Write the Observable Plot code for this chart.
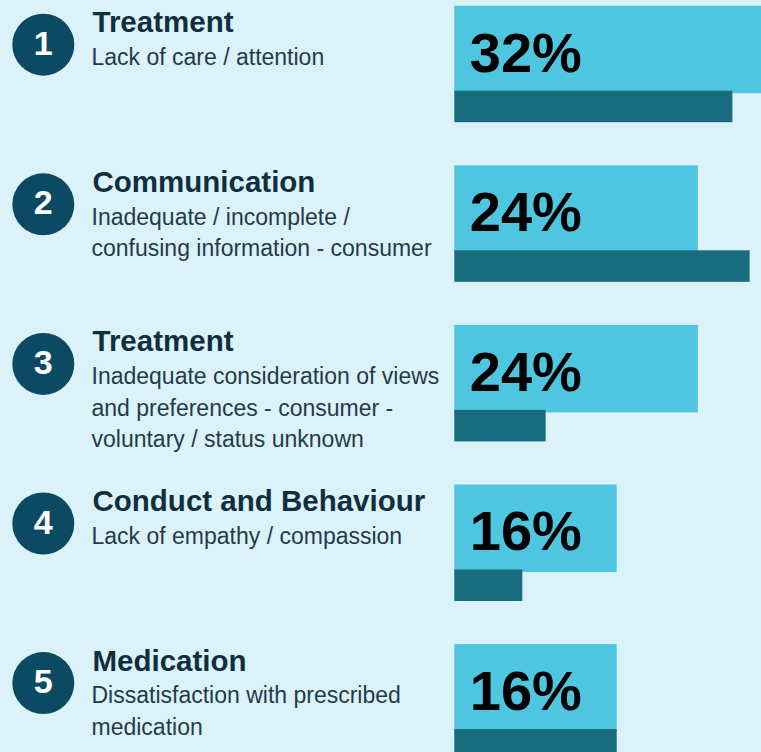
<!DOCTYPE html>
<html>
<head>
<meta charset="utf-8">
<script src="https://cdn.jsdelivr.net/npm/d3@7"></script>
<script src="https://cdn.jsdelivr.net/npm/@observablehq/plot@0.6"></script>
<style>
  html, body { margin: 0; padding: 0; background: #dcf2f9; overflow: hidden; }
  #chart svg { display: block; }
</style>
</head>
<body>
<div id="chart"></div>
<script>
// ---- data ----
const ranks = [1, 2, 3, 4, 5];
const categories = ["Treatment", "Communication", "Treatment", "Conduct and Behaviour", "Medication"];
const descriptions = [
  "Lack of care / attention",
  "Inadequate / incomplete /\nconfusing information - consumer",
  "Inadequate consideration of views\nand preferences - consumer -\nvoluntary / status unknown",
  "Lack of empathy / compassion",
  "Dissatisfaction with prescribed\nmedication"
];
const currentShare = [32, 24, 24, 16, 16];      // light bars (labelled)
const previousShare = [27.4, 29.1, 9, 6.7, 16]; // dark bars

// ---- table built from the arrays ----
const rows = ranks.map((r, i) => ({
  i, rank: r, category: categories[i], description: descriptions[i],
  current: currentShare[i], previous: previousShare[i]
}));

// layout constants (pixels within a row band)
const ROW = 159.6;
const off = px => px / ROW;
const FONT = "'Liberation Sans', Arial, Helvetica, sans-serif";

const chart = Plot.plot({
  width: 761,
  height: 752,
  marginTop: 0, marginRight: 0, marginBottom: 0, marginLeft: 0,
  style: { background: "#dcf2f9", fontFamily: FONT },
  x: { domain: [0, 30], range: [454.3, 454.3 + 30 * 10.15], axis: null },
  y: { domain: [0, 5], range: [5.7, 5.7 + 5 * ROW], axis: null },
  marks: [
    // light bars
    Plot.rect(rows, {
      x1: 0, x2: "current",
      y1: d => d.i, y2: d => d.i + off(87.5),
      fill: "#4fc6df"
    }),
    // dark bars
    Plot.rect(rows, {
      x1: 0, x2: "previous",
      y1: d => d.i + off(85), y2: d => d.i + off(116.5),
      fill: "#176c7e"
    }),
    // percent labels
    Plot.text(rows, {
      x: 0, y: d => d.i + off(47.5),
      text: d => d.current + "%",
      dx: 15, textAnchor: "start", lineAnchor: "middle",
      fontSize: 56, fontWeight: "bold", fill: "#000", fontFamily: FONT
    }),
    // rank circles
    Plot.dot(rows, {
      frameAnchor: "left", dx: 42.8,
      y: d => d.i + off(38.5),
      r: 31, fill: "#0c4a63", stroke: null
    }),
    Plot.text(rows, {
      frameAnchor: "left", dx: 42.8, textAnchor: "middle",
      y: d => d.i + off(37.7),
      text: d => String(d.rank),
      lineAnchor: "middle",
      fontSize: 34, fontWeight: "bold", fill: "#ffffff", fontFamily: FONT
    }),
    // category titles
    Plot.text(rows, {
      frameAnchor: "left", dx: 92, textAnchor: "start",
      y: d => d.i + off(16.5),
      text: "category", lineAnchor: "middle",
      fontSize: 29.5, fontWeight: "bold", fill: "#0e2f40", fontFamily: FONT
    }),
    // descriptions
    Plot.text(rows, {
      frameAnchor: "left", dx: 91, textAnchor: "start",
      y: d => d.i + off(36.5),
      text: "description", lineAnchor: "top", lineHeight: 1.37,
      fontSize: 23, fill: "#1f3c4c", fontFamily: FONT
    })
  ]
});

document.getElementById("chart").appendChild(chart);
</script>
</body>
</html>
